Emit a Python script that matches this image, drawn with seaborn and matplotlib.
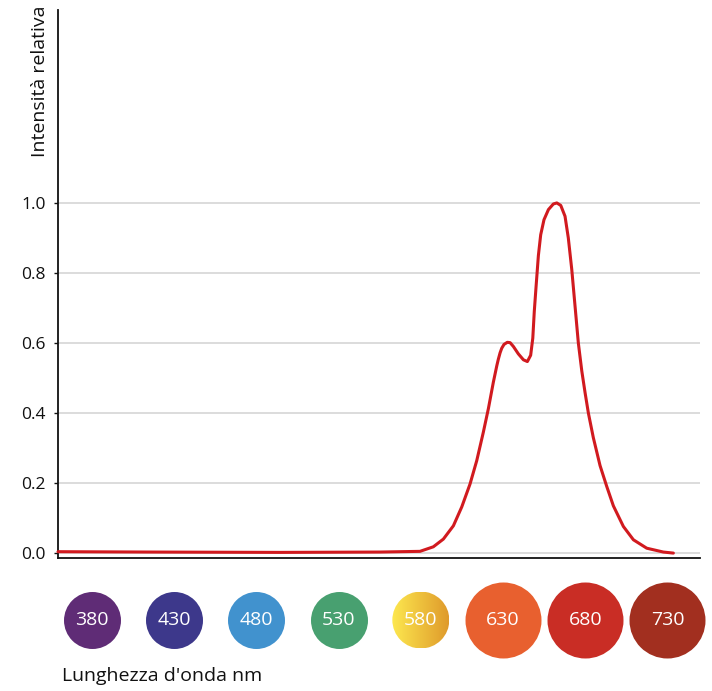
import numpy as np
import pandas as pd
import matplotlib
matplotlib.use("Agg")
import matplotlib.pyplot as plt
from matplotlib.patches import Circle
import matplotlib.transforms as mtransforms
import seaborn as sns

# ---- data ----
wavelength = [359.3, 415.3, 494.4, 555.2, 567.3, 579.5, 587.6, 593.7, 599.8, 604.9,
              609.9, 614.0, 618.0, 621.1, 624.1, 626.2, 627.1, 628.2, 629.2, 630.6,
              632.6, 634.3, 636.3, 639.3, 642.4, 644.8, 646.8, 648.1, 649.0, 650.1,
              651.5, 652.9, 654.9, 657.6, 660.6, 662.7, 665.1, 667.7, 669.7, 671.8,
              673.8, 675.8, 677.9, 679.9, 681.9, 684.9, 689.0, 693.1, 697.1, 703.2,
              709.3, 717.4, 727.5, 733.6]
intensity = [0.004, 0.003, 0.002, 0.003, 0.004, 0.005, 0.018, 0.040, 0.078, 0.132,
             0.197, 0.264, 0.345, 0.413, 0.488, 0.535, 0.553, 0.572, 0.585, 0.596,
             0.602, 0.601, 0.590, 0.569, 0.552, 0.547, 0.565, 0.614, 0.690, 0.762,
             0.850, 0.909, 0.952, 0.981, 0.997, 1.000, 0.993, 0.962, 0.900, 0.810,
             0.705, 0.600, 0.520, 0.458, 0.400, 0.330, 0.250, 0.190, 0.135, 0.076,
             0.038, 0.014, 0.003, 0.000]

band_labels = ["380", "430", "480", "530", "580", "630", "680", "730"]
band_nm = [380, 430, 480, 530, 580, 630, 680, 730]
band_colors = ["#5F2C76", "#3D388B", "#4192CE", "#48A070", None,
               "#E8602F", "#C92D25", "#A22F1F"]
band_large = [False, False, False, False, False, True, True, True]
gradient_580 = ["#FDE84F", "#DF9A2B"]

y_ticks = [0.0, 0.2, 0.4, 0.6, 0.8, 1.0]
y_label = "Intensità relativa"
x_label = "Lunghezza d'onda nm"

# ---- figure ----
sns.set_theme(style="white")
plt.rcParams['font.family'] = ['Open Sans', 'DejaVu Sans']

W, H = 712, 691
fig = plt.figure(figsize=(W / 100, H / 100), dpi=100)
ax = fig.add_axes([58 / W, 1 - 558 / H, 642 / W, 548 / H])

df = pd.DataFrame({"wl": wavelength, "val": intensity})
sns.lineplot(data=df, x="wl", y="val", ax=ax, color="#D11A1F", linewidth=2.2,
             zorder=3, clip_on=False)
ax.lines[-1].set_solid_joinstyle("round")

ax.set_xlim(359.3, 749.8)
ax.set_ylim(-0.014, 1.551)
ax.set_yticks(y_ticks)
ax.set_yticklabels([f"{t:.1f}" for t in y_ticks])
ax.set_xticks([])
ax.set_xlabel("")
ax.set_ylabel("")
for t in y_ticks:
    ax.axhline(t, color="#d9d9d9", linewidth=1.3, zorder=1)

for s in ["top", "right"]:
    ax.spines[s].set_visible(False)
for s in ["left", "bottom"]:
    ax.spines[s].set_color("#111111")
    ax.spines[s].set_linewidth(1.3)

ax.tick_params(axis="y", which="both", left=True, length=3, width=1,
               color="#111111", pad=6, labelsize=12.5, labelcolor="#111111")

ax.text(-0.028, 1.009, y_label, transform=ax.transAxes, rotation=90,
        ha="center", va="top", fontsize=14, color="#111111")
fig.text(62 / W, 1 - 676 / H, x_label, ha="left", va="center",
         fontsize=14, color="#111111")

# ---- colored wavelength circles ----
trans = mtransforms.blended_transform_factory(ax.transData, ax.transAxes)
cy = (558 - 620) / 548.0
for lab, nm, col, big in zip(band_labels, band_nm, band_colors, band_large):
    d_px = 76 if big else 57
    if col is not None:
        ax.scatter([nm], [cy], s=(d_px * 0.72) ** 2, color=col, transform=trans,
                   clip_on=False, linewidths=0, zorder=4)
        ax.text(nm, cy, lab, transform=trans, ha="center", va="center",
                color="white", fontsize=14, zorder=5, clip_on=False)
    else:
        px = ax.transData.transform((nm, 0))[0]
        iax = fig.add_axes([(px - d_px / 2) / W, 1 - (620 + d_px / 2) / H,
                            d_px / W, d_px / H])
        iax.set_axis_off()
        cmap = matplotlib.colors.LinearSegmentedColormap.from_list("g", gradient_580)
        grad = np.linspace(0, 1, 256).reshape(1, -1)
        im = iax.imshow(grad, cmap=cmap, aspect="auto", extent=[0, 1, 0, 1])
        circ = Circle((0.5, 0.5), 0.5, transform=iax.transAxes)
        im.set_clip_path(circ)
        iax.text(0.5, 0.5, lab, ha="center", va="center", color="white",
                 fontsize=14, transform=iax.transAxes)

fig.savefig("out.png", dpi=100)
